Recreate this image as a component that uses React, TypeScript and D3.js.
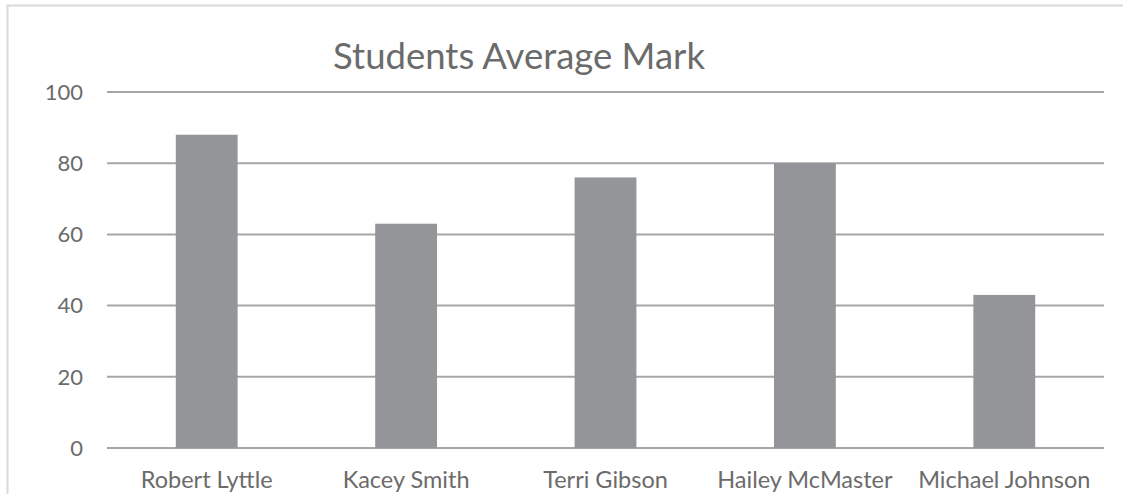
import React, { useEffect, useRef } from "react";
import * as d3 from "d3";

const students = ["Robert Lyttle", "Kacey Smith", "Terri Gibson", "Hailey McMaster", "Michael Johnson"];
const marks = [88, 63, 76, 80, 43];
const yTicks = [0, 20, 40, 60, 80, 100];
const title = "Students Average Mark";

export default function App() {
    const ref = useRef<SVGSVGElement>(null);

    useEffect(() => {
        const width = 1123;
        const height = 494;
        const margin = { top: 92, right: 19, bottom: 46, left: 107 };
        const innerWidth = width - margin.left - margin.right;
        const innerHeight = height - margin.top - margin.bottom;
        const font = "Lato, 'Open Sans', sans-serif";
        const textColor = "#6b6b6b";

        const svg = d3.select(ref.current).attr("width", width).attr("height", height);
        svg.selectAll("*").remove();

        svg.append("rect").attr("width", width).attr("height", height).attr("fill", "#ffffff");
        // chart area border (only top and left are visible in the picture)
        svg.append("path")
            .attr("d", `M7.5,${height} V5.5 H${width}`)
            .attr("fill", "none")
            .attr("stroke", "#d9d9d9")
            .attr("stroke-width", 2);

        const g = svg.append("g").attr("transform", `translate(${margin.left}, ${margin.top})`);

        const xScale = d3.scaleBand().domain(students).range([0, innerWidth]).paddingInner(0.69).paddingOuter(0.345);
        const yScale = d3.scaleLinear().domain([0, 100]).range([innerHeight, 0]);

        // gridlines
        g.selectAll(".grid").data(yTicks).enter()
            .append("line")
            .attr("x1", 0)
            .attr("x2", innerWidth)
            .attr("y1", d => yScale(d))
            .attr("y2", d => yScale(d))
            .attr("stroke", "#a6a6a6")
            .attr("stroke-width", 2);

        g.selectAll(".bar").data(marks).enter()
            .append("rect")
            .attr("x", (d, i) => xScale(students[i]) as number)
            .attr("y", d => yScale(d))
            .attr("width", xScale.bandwidth())
            .attr("height", d => innerHeight - yScale(d))
            .attr("fill", "#939598");

        // y tick labels
        g.selectAll(".ytick").data(yTicks).enter()
            .append("text")
            .attr("x", -24)
            .attr("y", d => yScale(d))
            .attr("dy", "0.35em")
            .attr("text-anchor", "end")
            .style("font-family", font)
            .style("font-size", "22px")
            .attr("fill", textColor)
            .text(d => d);

        // x labels
        g.selectAll(".xtick").data(students).enter()
            .append("text")
            .attr("x", d => (xScale(d) as number) + xScale.bandwidth() / 2)
            .attr("y", innerHeight + 40)
            .attr("text-anchor", "middle")
            .style("font-family", font)
            .style("font-size", "23.5px")
            .attr("fill", textColor)
            .text(d => d);

        svg.append("text")
            .attr("x", 519)
            .attr("y", 69)
            .attr("text-anchor", "middle")
            .style("font-family", font)
            .style("font-size", "36.5px")
            .attr("fill", textColor)
            .text(title);
    }, []);

    return (<svg ref={ref} style={{ position: "absolute", left: 0, top: 0, display: "block" }}></svg>);
}
